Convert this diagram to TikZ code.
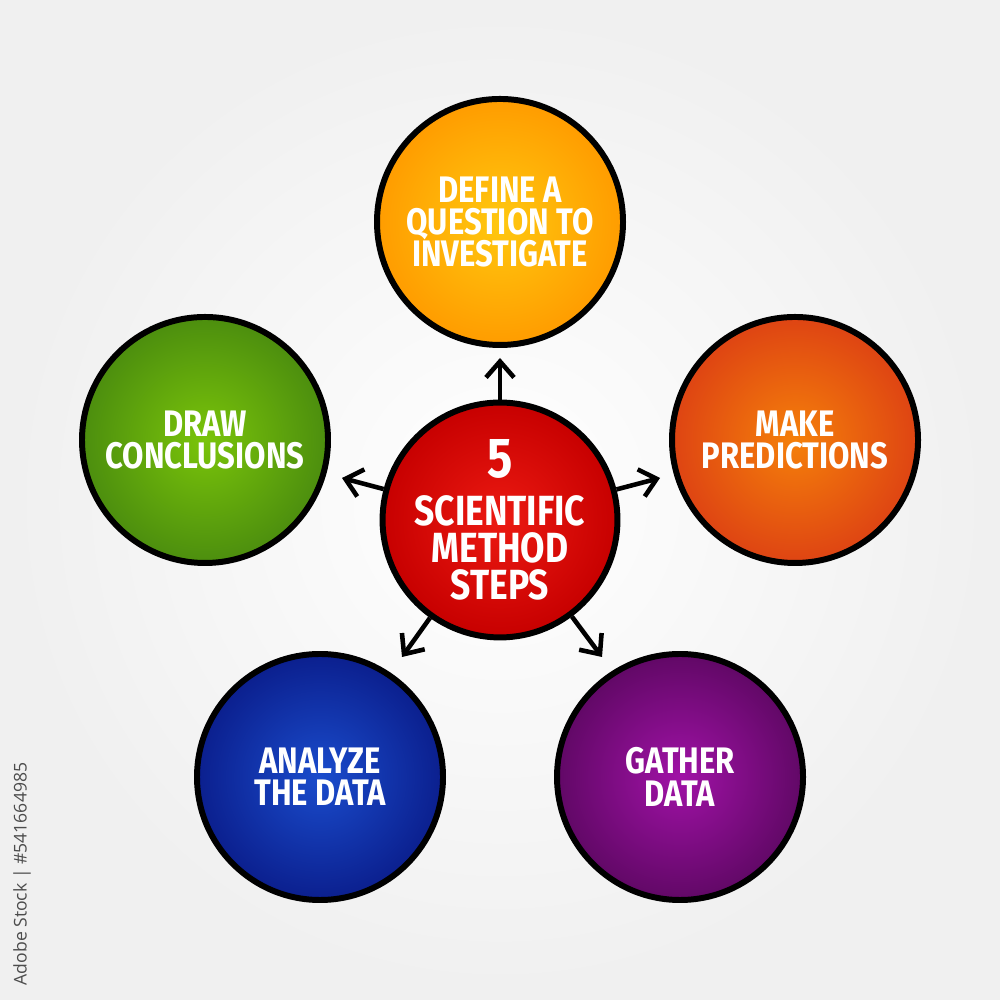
\documentclass[tikz,border=0pt]{standalone}
\usepackage{fontspec}
\setmainfont{Fira Sans}[FakeStretch=0.84]
\newfontfamily\stockfont{Open Sans}
\usetikzlibrary{arrows.meta}
\definecolor{defIn}{HTML}{FFC80F}
\definecolor{defOut}{HTML}{FF9C00}
\definecolor{preIn}{HTML}{F5800A}
\definecolor{preOut}{HTML}{DE4413}
\definecolor{hubIn}{HTML}{EC1A12}
\definecolor{hubOut}{HTML}{C70000}
\definecolor{conIn}{HTML}{7AC40A}
\definecolor{conOut}{HTML}{4C8E0E}
\definecolor{anaIn}{HTML}{1A4CCC}
\definecolor{anaOut}{HTML}{0B1F8E}
\definecolor{gatIn}{HTML}{A012A6}
\definecolor{gatOut}{HTML}{610866}
\newcommand\XL{2.05}
\newcommand\XM{5}
\newcommand\XR{7.95}
\newcommand\XBL{3.2}
\newcommand\XBR{6.8}
\newcommand\YT{7.78}
\newcommand\YS{5.6}
\newcommand\YH{4.8}
\newcommand\YB{2.23}

\begin{document}
\begin{tikzpicture}
  [line width=1.7pt,
   stepball/.style = {
     draw, circle, inner sep=0cm, minimum size=2.46cm,
     text=white, align=center,
     font=\fontsize{10.5}{9.2}\selectfont\bfseries
   },
   hubball/.style = {
     stepball, minimum size=2.28cm,
     font=\fontsize{12}{10.6}\selectfont\bfseries
   },
   spoke/.style = {
     line width=1.3pt, -{Straight Barb[length=1.6mm, width=2.8mm]}
   }]

  \useasboundingbox (0,0) rectangle (10,10);
	% Background.
	\shade[inner color=white, outer color=black!6] (0,0) rectangle (10,10);
	\node[rotate=90, text=black!70, font=\stockfont\fontsize{5}{7}\selectfont] at (0.22, 1.26) (stock) {Adobe Stock | \#541664985};

	% Centre.
	\node[hubball, inner color=hubIn, outer color=hubOut] at (\XM, \YH) (hub) {{\fontsize{16}{16}\selectfont 5}\\[3pt]SCIENTIFIC\\METHOD\\STEPS};

	% The five steps.
	\node[stepball, inner color=defIn, outer color=defOut] at (\XM, \YT) (define) {DEFINE A\\QUESTION TO\\INVESTIGATE};
	\node[stepball, inner color=preIn, outer color=preOut] at (\XR, \YS) (predict) {MAKE\\PREDICTIONS};
	\node[stepball, inner color=gatIn, outer color=gatOut] at (\XBR, \YB) (gather) {GATHER\\DATA};
	\node[stepball, inner color=anaIn, outer color=anaOut] at (\XBL, \YB) (analyze) {ANALYZE\\THE DATA};
	\node[stepball, inner color=conIn, outer color=conOut] at (\XL, \YS) (conclude) {DRAW\\CONCLUSIONS};

	% Arrow ends.
	\coordinate (upEnd) at (\XM, 6.42);
	\coordinate (rightEnd) at (6.6, 5.22);
	\coordinate (leftEnd) at (3.42, 5.22);
	\coordinate (brEnd) at (6.02, 3.43);
	\coordinate (blEnd) at (4.02, 3.43);

	\draw[spoke] (hub) -- (upEnd);
	\draw[spoke] (hub) -- (rightEnd);
	\draw[spoke] (hub) -- (leftEnd);
	\draw[spoke] (hub) -- (brEnd);
	\draw[spoke] (hub) -- (blEnd);

\end{tikzpicture}
\end{document}
